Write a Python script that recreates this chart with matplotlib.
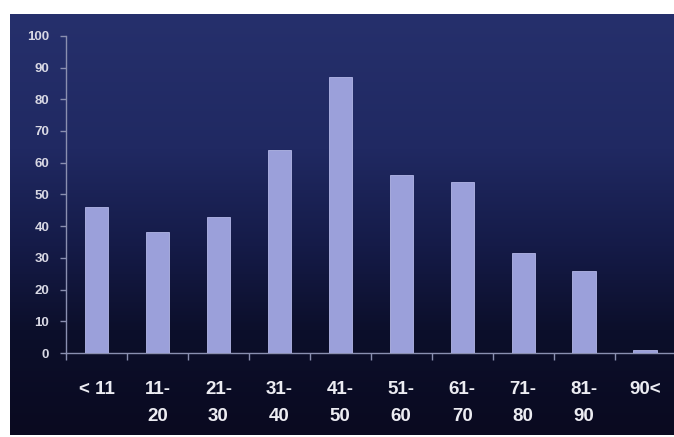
import numpy as np
import matplotlib
matplotlib.use('Agg')
import matplotlib.pyplot as plt
from matplotlib.colors import LinearSegmentedColormap

# Age groups and counts
age_groups = ['< 11', '11-\n20', '21-\n30', '31-\n40', '41-\n50',
              '51-\n60', '61-\n70', '71-\n80', '81-\n90', '90<']
counts = [46, 38, 43, 64, 87, 56, 54, 31.5, 26, 1]
y_ticks = list(range(0, 101, 10))

W, H = 674, 437
fig = plt.figure(figsize=(W / 100, H / 100), dpi=100, facecolor='white')

# Dark navy background panel with vertical gradient
bg = fig.add_axes([10 / W, 2 / H, 664 / W, 421 / H])
bg.set_axis_off()
grad_cmap = LinearSegmentedColormap.from_list(
    'slide', [(0.0, '#0a0a20'), (0.25, '#0c0f2b'), (0.45, '#151b48'),
              (0.68, '#202962'), (1.0, '#26306c')])
bg.imshow(np.linspace(0, 1, 256).reshape(-1, 1), aspect='auto', cmap=grad_cmap,
          origin='lower', extent=[0, 1, 0, 1])
bg.set_xlim(0, 1)
bg.set_ylim(0, 1)

# Main chart axes
x0, x1 = 66, 675.5
y0, y1 = 353, 35.8
ax = fig.add_axes([x0 / W, (H - y0) / H, (x1 - x0) / W, (y0 - y1) / H])
ax.patch.set_alpha(0)

x = np.arange(len(counts))
ax.bar(x, counts, width=0.38, color='#9ba0da', edgecolor='#b4b8e8', linewidth=0.6, zorder=3)

ax.set_xlim(-0.5, len(counts) - 0.5)
ax.set_ylim(0, 100)
ax.set_yticks(y_ticks)
ax.set_yticklabels([str(v) for v in y_ticks], fontsize=9.5, fontweight='bold',
                   color='#d8d8e4', family='Liberation Sans')

ax.set_xticks(x)
ax.set_xticklabels(age_groups, fontsize=13.5, fontweight='bold', color='#ececf2',
                   family='Liberation Sans', linespacing=1.8, va='top')
ax.set_xticks(np.arange(len(counts) + 1) - 0.5, minor=True)

ax.tick_params(axis='x', which='major', length=0, pad=20)
ax.tick_params(axis='x', which='minor', length=5, width=1, color='#8a8fb0', direction='out')
ax.tick_params(axis='y', length=4, width=1, color='#8a8fb0', direction='out', pad=8)

for side in ['top', 'right']:
    ax.spines[side].set_visible(False)
for side in ['left', 'bottom']:
    ax.spines[side].set_color('#8a8fb0')
    ax.spines[side].set_linewidth(1)

fig.savefig('out.png', dpi=100, facecolor='white')
